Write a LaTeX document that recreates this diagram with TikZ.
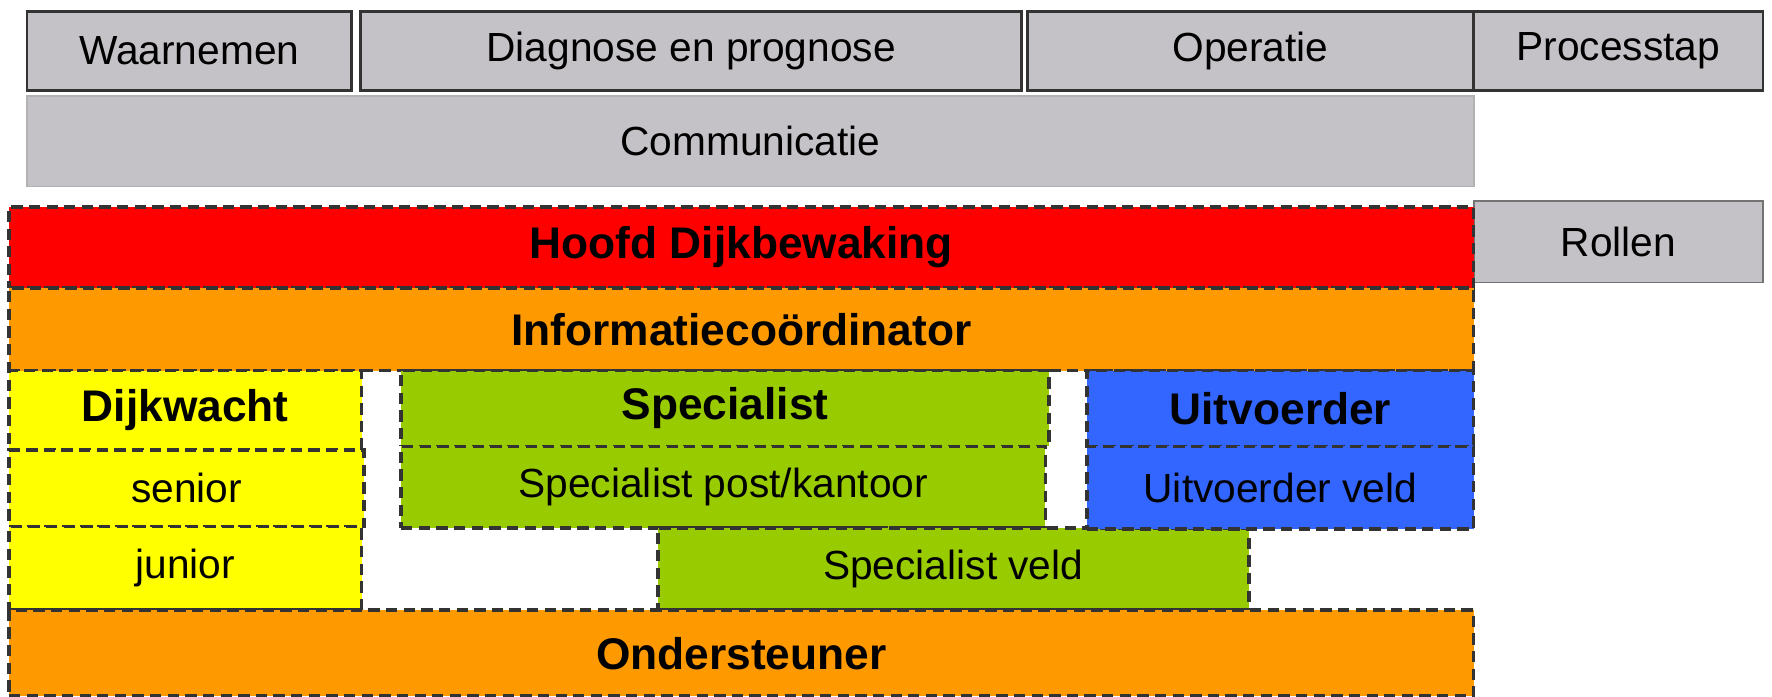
\documentclass[tikz,border=0pt]{standalone}
\usepackage{fontspec}
\setmainfont{Liberation Sans}
\usetikzlibrary{fit}
\definecolor{boxgray}{HTML}{C4C2C6}
\definecolor{cred}{HTML}{FF0000}
\definecolor{corange}{HTML}{FF9900}
\definecolor{cyellow}{HTML}{FFFF00}
\definecolor{cgreen}{HTML}{99CC00}
\definecolor{cblue}{HTML}{3366FF}
\tikzset{
  base/.style={inner sep=0pt, outer sep=0pt},
  reg/.style={text=black, font=\fontsize{18}{20}\selectfont},
  bold/.style={text=black, font=\fontsize{19.6}{22}\selectfont\bfseries},
  procbox/.style={base, fill=boxgray, draw=black!80, line width=1.2pt},
  softbox/.style={base, fill=boxgray, draw=black!30, line width=0.8pt},
  rolebox/.style={base, draw=black!80, line width=1.6pt, dash pattern=on 5pt off 2.8pt},
  rtext/.style={label={[reg]center:#1}},
  btext/.style={label={[bold]center:#1}},
}
\begin{document}
\begin{tikzpicture}[x=0.5pt, y=-0.5pt]
\useasboundingbox (0,0) rectangle (1568,616);
% process steps
\node[procbox, fit={(24,10)(311,80)}, rtext=Waarnemen] (waar) {};
\node[procbox, fit={(319,10)(904,80)}, rtext=Diagnose en prognose] (diag) {};
\node[procbox, fit={(909,10)(1304,80)}, rtext=Operatie] (oper) {};
\node[procbox, fit={(1304,10)(1560,80)}, rtext=Processtap] (proc) {};
\node[softbox, fit={(24,85)(1304,165)}, rtext=Communicatie] (comm) {};
\node[softbox, draw=black!55, fit={(1304,178)(1560,250)}, rtext=Rollen] (roll) {};
% roles
\node[rolebox, fill=cred, fit={(8,183)(1304,255)}, btext=Hoofd Dijkbewaking] (hoofd) {};
\node[rolebox, fill=corange, fit={(8,255)(1304,328)}, btext=Informatieco\"ordinator] (info) {};
\node[rolebox, fill=cyellow, fit={(8,328)(320,398)}, btext=Dijkwacht] (dijk) {};
\node[rolebox, fill=cyellow, fit={(8,398)(322,466)}, rtext=senior] (senior) {};
\node[rolebox, fill=cyellow, fit={(8,466)(320,540)}, rtext=junior] (junior) {};
\node[rolebox, fill=cgreen, fit={(355,328)(928,395)}, btext=Specialist] (spec) {};
\node[rolebox, fill=cgreen, fit={(355,395)(925,467)}, rtext=Specialist post/kantoor] (specpost) {};
\node[rolebox, fill=cgreen, fit={(582,467)(1105,540)}, rtext=Specialist veld] (specveld) {};
\node[rolebox, fill=cblue, fit={(962,328)(1304,395)}, btext=Uitvoerder] (uitv) {};
\node[rolebox, fill=cblue, fit={(962,395)(1304,468)}, rtext=Uitvoerder veld] (uitvveld) {};
\node[rolebox, fill=corange, fit={(8,540)(1304,616)}, btext=Ondersteuner] (onder) {};
\end{tikzpicture}
\end{document}
